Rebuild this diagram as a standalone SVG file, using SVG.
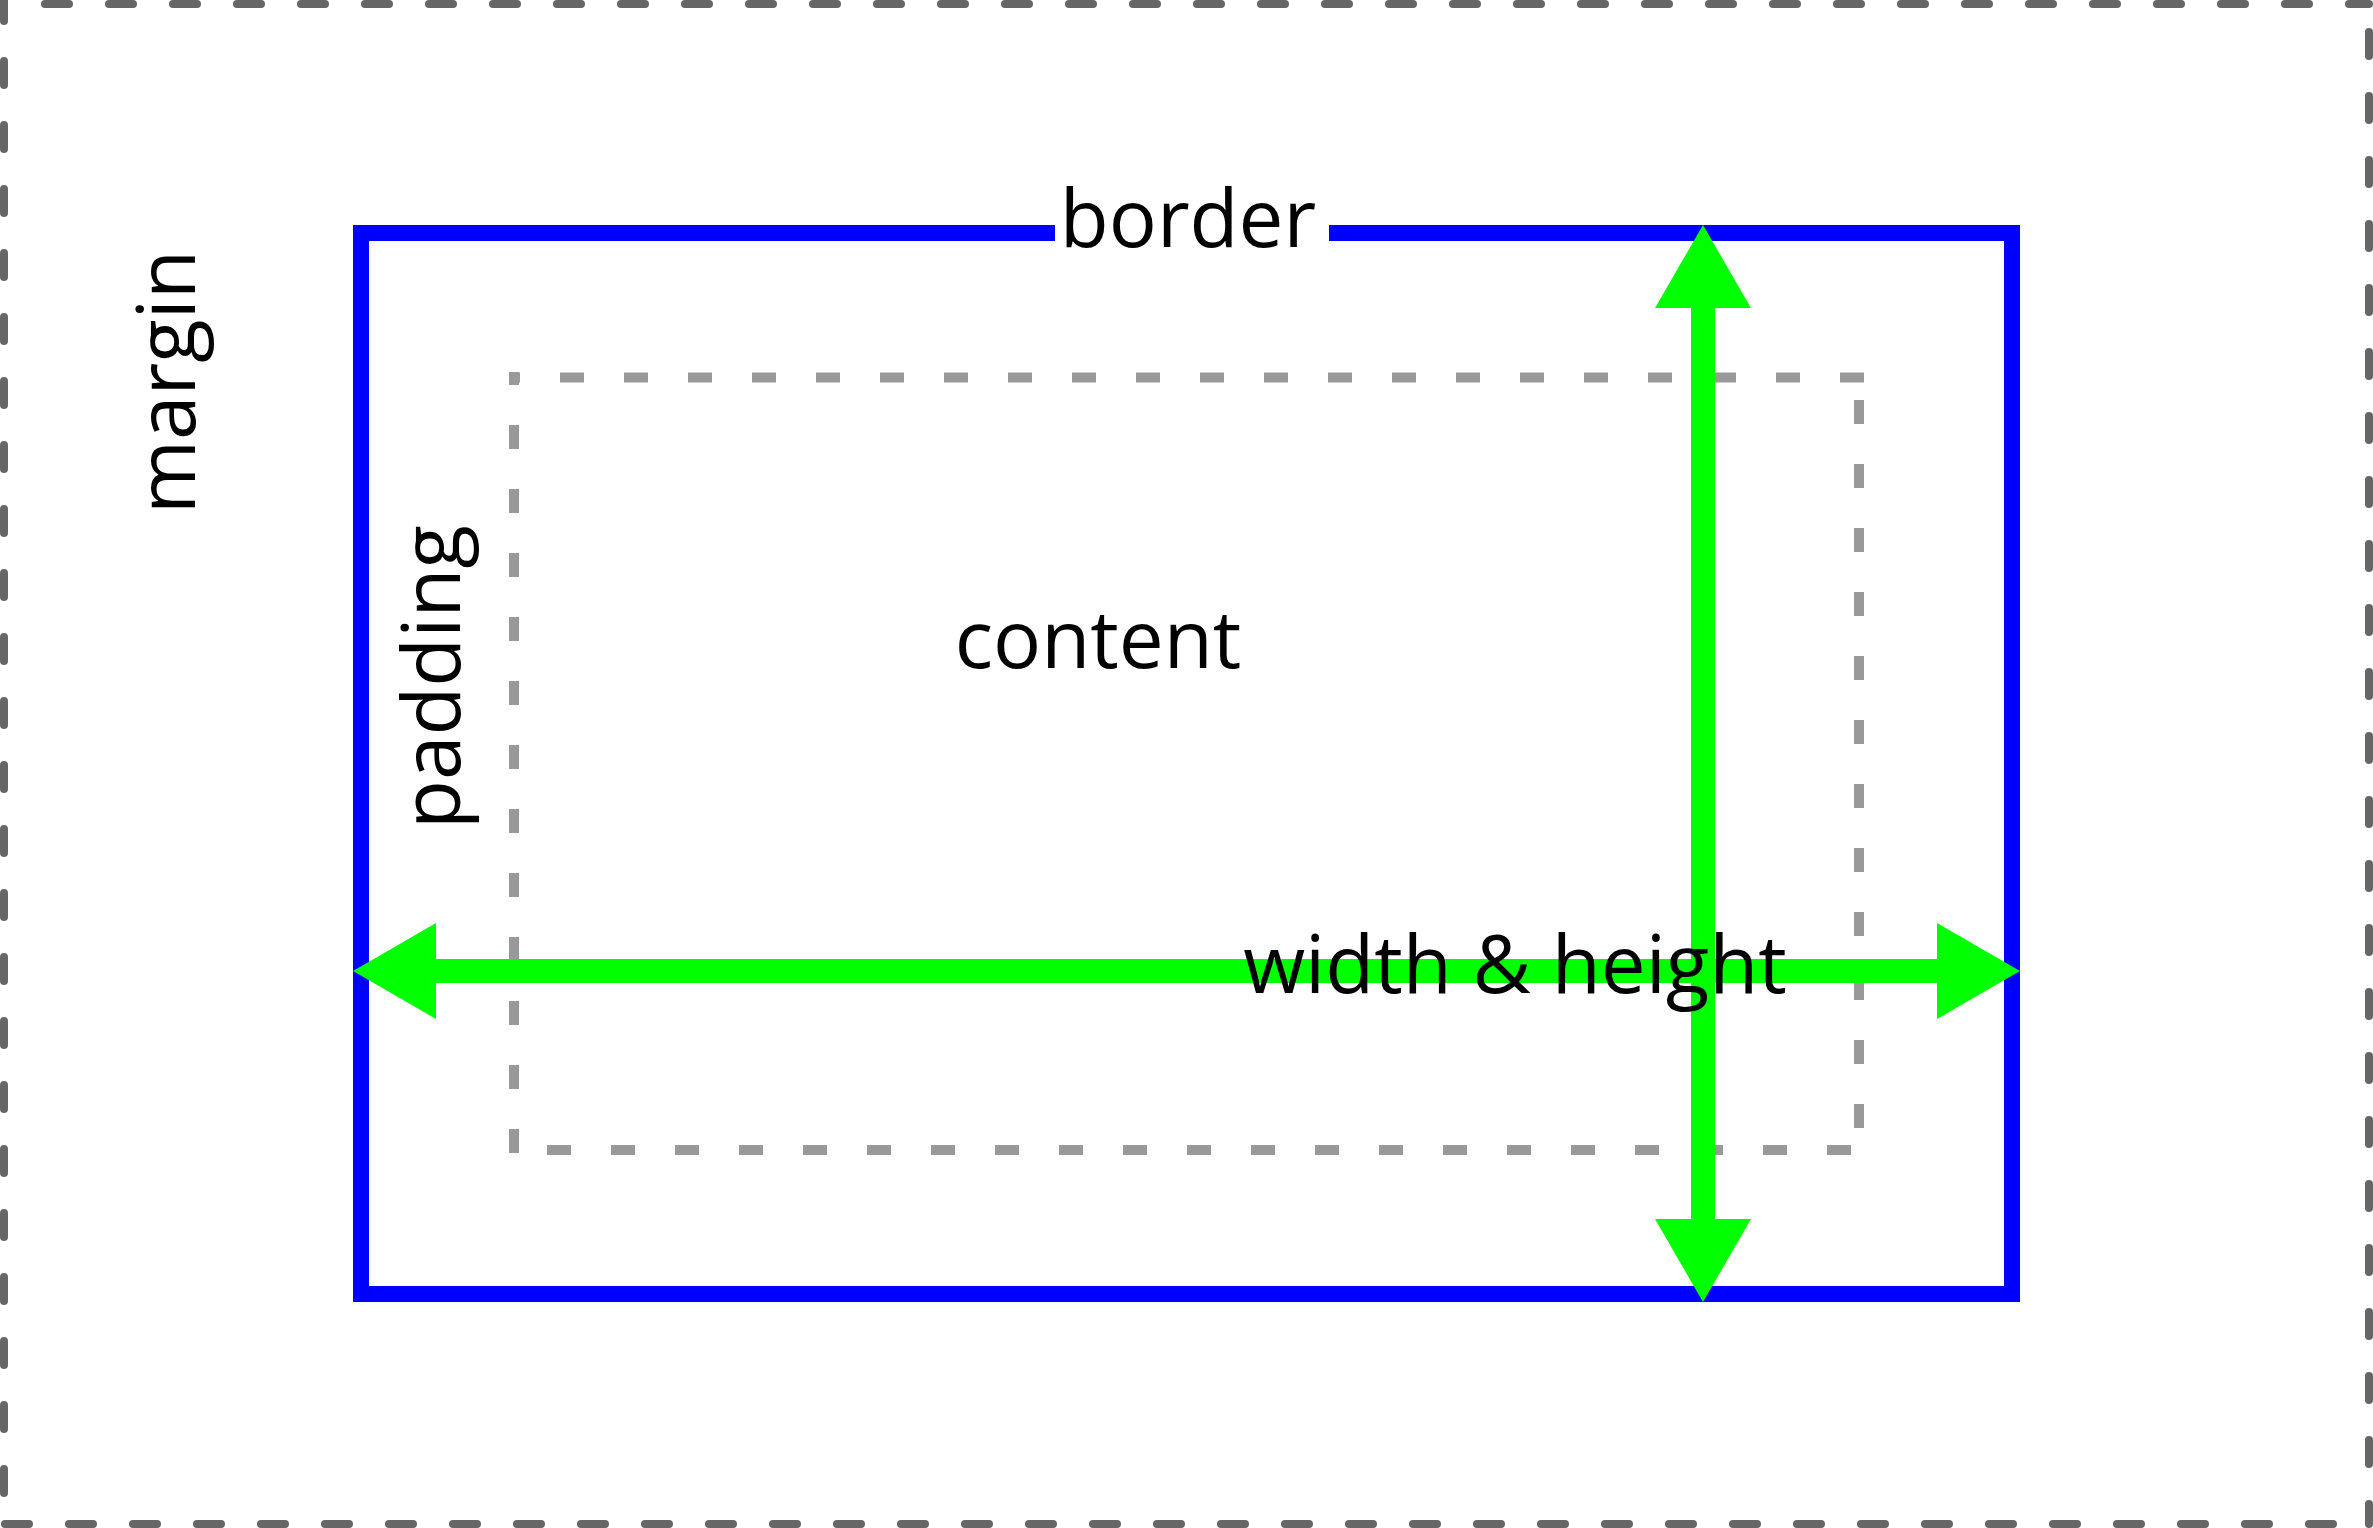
<svg xmlns="http://www.w3.org/2000/svg" width="2373" height="1528" viewBox="0 0 2373 1528">
  <style>
    .margin-line { stroke: #666666; stroke-width: 8; stroke-linecap: round; stroke-dasharray: 24 40; fill: none; }
    .pad-line { stroke: #999999; stroke-width: 10; stroke-linecap: butt; stroke-dasharray: 24 40; fill: none; }
    .border-line { stroke: #0000ff; stroke-width: 16; stroke-linejoin: miter; fill: none; }
    .arrow { stroke: #00ff00; stroke-width: 24; fill: none; marker-start: url(#head); marker-end: url(#head); }
    .label { font-family: "Open Sans", "Noto Sans", sans-serif; font-size: 80px; font-weight: 500; fill: #000000; text-anchor: middle; }
  </style>
  <defs>
    <marker id="head" viewBox="0 0 83 96" markerWidth="83" markerHeight="96" refX="0" refY="48" markerUnits="userSpaceOnUse" orient="auto-start-reverse">
      <path d="M0,0 L83,48 L0,96 Z" fill="#00ff00"/>
    </marker>
  </defs>
  <rect x="0" y="0" width="2373" height="1528" fill="#ffffff"/>

  <g id="margin">
    <line class="margin-line" x1="45" y1="4" x2="2369" y2="4"/>
    <line class="margin-line" x1="4" y1="-3" x2="4" y2="1524"/>
    <line class="margin-line" x1="2369" y1="32" x2="2369" y2="1524"/>
    <line class="margin-line" x1="5" y1="1524" x2="2369" y2="1524"/>
    <text class="label" transform="translate(195,382) rotate(-90)">margin</text>
  </g>

  <g id="padding">
    <line class="pad-line" x1="509" y1="377.5" x2="1864" y2="377.5" stroke-dashoffset="13"/>
    <line class="pad-line" x1="514" y1="372" x2="514" y2="1155" stroke-dashoffset="11"/>
    <line class="pad-line" x1="1859" y1="372" x2="1859" y2="1155" stroke-dashoffset="36"/>
    <line class="pad-line" x1="509" y1="1150" x2="1864" y2="1150" stroke-dashoffset="26"/>
    <text class="label" transform="translate(460,677) rotate(-90)">padding</text>
  </g>

  <g id="border">
    <path class="border-line" d="M1055,233 H361 V1294 H2012 V233 H1329"/>
    <text class="label" x="1188" y="247">border</text>
  </g>

  <g id="connectors">
    <line class="arrow" x1="436" y1="971" x2="1937" y2="971"/>
    <line class="arrow" x1="1703" y1="308" x2="1703" y2="1219"/>
  </g>

  <g id="content">
    <text class="label" x="1098" y="668">content</text>
  </g>

  <g id="width-height">
    <text class="label" x="1515" y="993">width &amp; height</text>
  </g>
</svg>
